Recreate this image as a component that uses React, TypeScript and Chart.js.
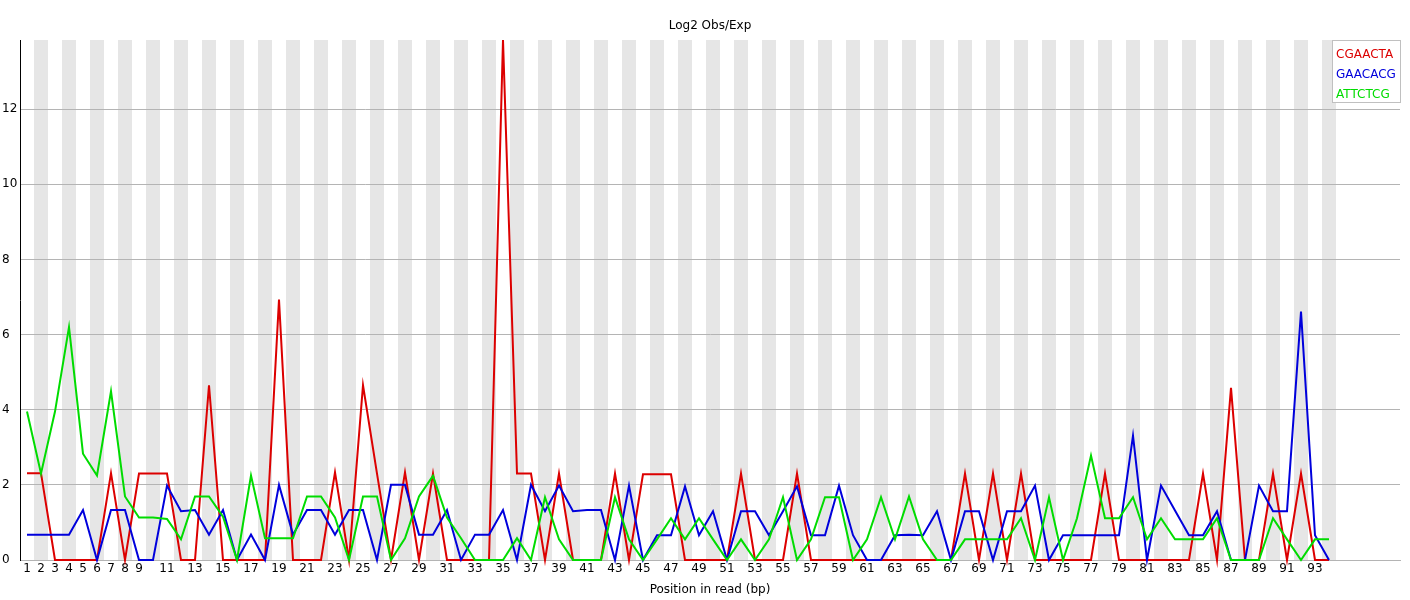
import React, { useEffect, useRef } from "react";
import { Chart, registerables } from "chart.js";

Chart.register(...registerables);

const chartTitle = "Log2 Obs/Exp";
const xAxisTitle = "Position in read (bp)";

const positions = [
  1, 2, 3, 4, 5, 6, 7, 8, 9, 10, 11, 12, 13, 14, 15, 16, 17, 18, 19, 20,
  21, 22, 23, 24, 25, 26, 27, 28, 29, 30, 31, 32, 33, 34, 35, 36, 37, 38, 39, 40,
  41, 42, 43, 44, 45, 46, 47, 48, 49, 50, 51, 52, 53, 54, 55, 56, 57, 58, 59, 60,
  61, 62, 63, 64, 65, 66, 67, 68, 69, 70, 71, 72, 73, 74, 75, 76, 77, 78, 79, 80,
  81, 82, 83, 84, 85, 86, 87, 88, 89, 90, 91, 92, 93, 94,
];

const xTickLabels = [
  1, 2, 3, 4, 5, 6, 7, 8, 9, 11, 13, 15, 17, 19, 21, 23, 25, 27, 29, 31, 33, 35,
  37, 39, 41, 43, 45, 47, 49, 51, 53, 55, 57, 59, 61, 63, 65, 67, 69, 71, 73, 75,
  77, 79, 81, 83, 85, 87, 89, 91, 93,
];

const yTickValues = [0, 2, 4, 6, 8, 10, 12];

const seriesNames = ["CGAACTA", "GAACACG", "ATTCTCG"];
const seriesColors = ["rgb(220,0,0)", "rgb(0,0,220)", "rgb(0,220,0)"];

const cgaacta = [
  2.31, 2.31, 0, 0, 0, 0, 2.31, 0, 2.3, 2.3,
  2.3, 0, 0, 4.65, 0, 0, 0, 0, 6.93, 0,
  0, 0, 2.33, 0, 4.65, 2.3, 0, 2.33, 0, 2.3,
  0, 0, 0, 0, 13.84, 2.3, 2.3, 0, 2.3, 0,
  0, 0, 2.3, 0, 2.28, 2.28, 2.28, 0, 0, 0,
  0, 2.3, 0, 0, 0, 2.3, 0, 0, 0, 0,
  0, 0, 0, 0, 0, 0, 0, 2.3, 0, 2.3,
  0, 2.3, 0, 0, 0, 0, 0, 2.3, 0, 0,
  0, 0, 0, 0, 2.3, 0, 4.58, 0, 0, 2.3,
  0, 2.3, 0, 0,
];

const gaacacg = [
  0.675, 0.675, 0.675, 0.675, 1.33, 0, 1.33, 1.33, 0, 0,
  1.98, 1.3, 1.33, 0.675, 1.33, 0, 0.675, 0, 2.0, 0.675,
  1.33, 1.33, 0.675, 1.33, 1.33, 0, 2.0, 2.0, 0.675, 0.675,
  1.33, 0, 0.675, 0.675, 1.33, 0, 2.0, 1.3, 1.98, 1.3,
  1.33, 1.33, 0, 1.98, 0, 0.66, 0.66, 1.96, 0.66, 1.3,
  0, 1.3, 1.3, 0.66, 1.3, 1.96, 0.66, 0.66, 1.98, 0.66,
  0, 0, 0.66, 0.675, 0.66, 1.3, 0, 1.3, 1.3, 0,
  1.3, 1.3, 1.98, 0, 0.66, 0.66, 0.66, 0.66, 0.66, 3.31,
  0, 1.98, 1.32, 0.66, 0.66, 1.3, 0, 0, 1.98, 1.3,
  1.3, 6.61, 0.66, 0,
];

const attctcg = [
  3.95, 2.3, 3.95, 6.2, 2.83, 2.25, 4.49, 1.69, 1.13, 1.13,
  1.09, 0.55, 1.69, 1.69, 1.15, 0, 2.25, 0.58, 0.58, 0.58,
  1.69, 1.69, 1.13, 0, 1.69, 1.69, 0, 0.58, 1.69, 2.24,
  1.13, 0.58, 0, 0, 0, 0.58, 0, 1.67, 0.55, 0,
  0, 0, 1.67, 0.55, 0, 0.55, 1.11, 0.55, 1.11, 0.55,
  0, 0.55, 0, 0.55, 1.67, 0, 0.55, 1.67, 1.67, 0,
  0.55, 1.67, 0.55, 1.69, 0.55, 0, 0, 0.55, 0.55, 0.55,
  0.55, 1.11, 0, 1.67, 0, 1.11, 2.78, 1.11, 1.11, 1.67,
  0.55, 1.11, 0.55, 0.55, 0.55, 1.11, 0, 0, 0, 1.11,
  0.55, 0, 0.55, 0.55,
];

const FONT = { family: "'DejaVu Sans', sans-serif", size: 12 };

const stripesPlugin = {
  id: "stripes",
  beforeDraw(chart: any) {
    const { ctx, chartArea, scales } = chart;
    const xs = scales.x;
    ctx.save();
    ctx.fillStyle = "rgb(230,230,230)";
    for (const p of positions) {
      if (p % 2 === 0) {
        const l = xs.getPixelForValue(p - 0.5);
        const r = xs.getPixelForValue(p + 0.5);
        ctx.fillRect(l, chartArea.top, r - l, chartArea.bottom - chartArea.top);
      }
    }
    ctx.restore();
  },
};

const titleLegendPlugin = {
  id: "titleLegend",
  afterDraw(chart: any) {
    const { ctx } = chart;
    ctx.save();
    ctx.font = "12px 'DejaVu Sans', sans-serif";
    ctx.fillStyle = "#000";
    ctx.textAlign = "center";
    ctx.textBaseline = "middle";
    ctx.fillText(chartTitle, 710, 26);

    // legend
    const bx = 1332.5, by = 40.5, bw = 68, bh = 62;
    ctx.fillStyle = "#fff";
    ctx.fillRect(bx, by, bw, bh);
    ctx.strokeStyle = "rgb(192,192,192)";
    ctx.lineWidth = 1;
    ctx.strokeRect(bx, by, bw, bh);
    ctx.textAlign = "left";
    chart.data.datasets.forEach((ds: any, i: number) => {
      ctx.fillStyle = ds.borderColor;
      ctx.fillText(ds.label, 1336, 55 + i * 20);
    });
    ctx.restore();
  },
};

export default function App() {
  const ref = useRef<HTMLCanvasElement | null>(null);

  useEffect(() => {
    if (!ref.current) return;
    const yMax = Math.max(...cgaacta, ...gaacacg, ...attctcg);
    const series = [cgaacta, gaacacg, attctcg];
    const chart = new Chart(ref.current, {
      type: "line",
      data: {
        datasets: series.map((vals, i) => ({
          label: seriesNames[i],
          data: positions.map((p, j) => ({ x: p, y: vals[j] })),
          borderColor: seriesColors[i],
          backgroundColor: seriesColors[i],
          borderWidth: 2,
          pointRadius: 0,
          tension: 0,
          fill: false,
          clip: false,
          order: 3 - i,
        })),
      },
      options: {
        animation: false,
        responsive: false,
        devicePixelRatio: 1,
        layout: { padding: { left: 2, right: 10, top: 40, bottom: 0 } },
        plugins: {
          legend: { display: false },
          title: { display: false },
          tooltip: { enabled: false },
        },
        scales: {
          x: {
            type: "linear",
            min: 0.5,
            max: 0.5 + 1380 / 14,
            afterBuildTicks: (s: any) => {
              s.ticks = xTickLabels.map((v) => ({ value: v }));
            },
            afterFit: (s: any) => {
              s.height = 40;
            },
            ticks: {
              autoSkip: false,
              maxRotation: 0,
              padding: 2,
              color: "#000",
              font: FONT,
              callback: (v: any) => String(v),
            },
            grid: { display: false, drawTicks: false },
            border: { display: true, color: "rgb(180,180,180)" },
            title: {
              display: true,
              text: xAxisTitle,
              color: "#000",
              font: FONT,
              padding: { top: 0, bottom: 3 },
            },
          },
          y: {
            type: "linear",
            min: 0,
            max: yMax,
            afterBuildTicks: (s: any) => {
              s.ticks = yTickValues.map((v) => ({ value: v }));
            },
            afterFit: (s: any) => {
              s.width = 18;
            },
            ticks: {
              color: "#000",
              font: FONT,
              crossAlign: "far",
              padding: 3,
              callback: (v: any) => String(v),
            },
            grid: { color: "rgb(180,180,180)", drawTicks: false },
            border: { display: true, color: "#000" },
          },
        },
      },
      plugins: [stripesPlugin, titleLegendPlugin],
    });
    return () => chart.destroy();
  }, []);

  return (
    <div style={{ position: "absolute", left: 0, top: 0, width: 1410, height: 600, background: "#fff" }}>
      <canvas ref={ref} width={1410} height={600} style={{ width: 1410, height: 600, display: "block" }} />
    </div>
  );
}
